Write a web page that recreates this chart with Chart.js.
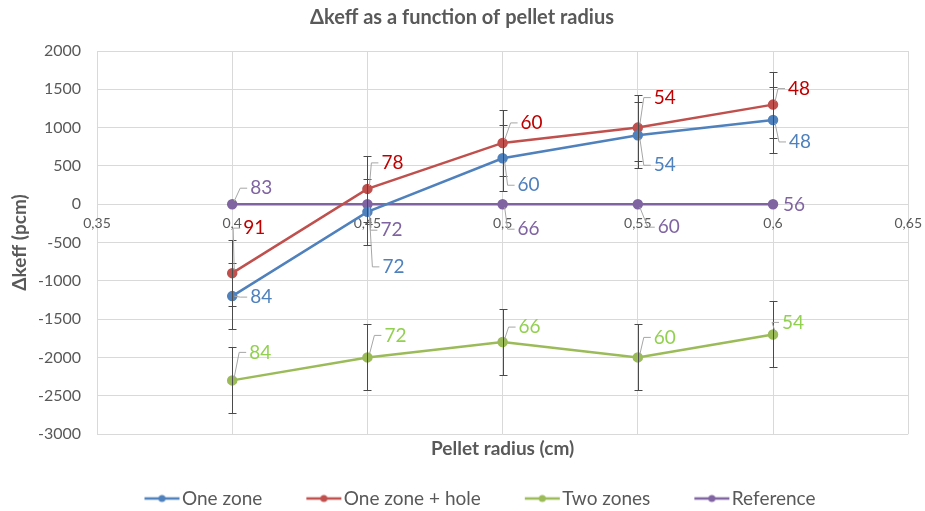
<!DOCTYPE html>
<html lang="en">
<head>
    <meta charset="UTF-8">
    <title>Δkeff as a function of pellet radius</title>
    <script src="https://cdn.jsdelivr.net/npm/chart.js"></script>
    <style>
        html, body { margin: 0; padding: 0; background: #fff; }
        #wrap { width: 925px; height: 511px; }
    </style>
</head>
<body>
    <div id="wrap"><canvas id="myChart" width="925" height="511"></canvas></div>

    <script>
        // data
        const radius = [0.4, 0.45, 0.5, 0.55, 0.6];
        const oneZone = [-1200, -100, 600, 900, 1100];
        const oneZoneHole = [-900, 200, 800, 1000, 1300];
        const twoZones = [-2300, -2000, -1800, -2000, -1700];
        const reference = [0, 0, 0, 0, 0];

        const oneZoneErr = [430, 430, 430, 430, 430];
        const oneZoneHoleErr = [430, 430, 430, 430, 430];
        const twoZonesErr = [430, 430, 430, 430, 430];

        const oneZoneLabels = [84, 72, 60, 54, 48];
        const oneZoneHoleLabels = [91, 78, 60, 54, 48];
        const twoZonesLabels = [84, 72, 66, 60, 54];
        const referenceLabels = [83, 72, 66, 60, 56];

        const xTicks = [0.35, 0.4, 0.45, 0.5, 0.55, 0.6, 0.65];
        const yMin = -3000, yMax = 2000, yStep = 500;

        // label placement (pixels, relative to the point)
        const labelOffsets = [
            [[29, 1], [26, 55], [26, 27], [27, 30], [27, 22]],
            [[22, -45], [25, -26], [29, -20], [27, -30], [26, -16]],
            [[28, -28], [28, -22], [27, -15], [27, -20], [20, -12]],
            [[29, -16], [24, 26], [26, 25], [31, 23], [21, 1]]
        ];

        const FONT = 'Lato, "Open Sans", sans-serif';
        const GREY = '#595959';

        function pts(ys) {
            return radius.map((x, i) => ({ x: x, y: ys[i] }));
        }

        // line + dot marker for the legend, shifted right so it sits just before the text
        function legendIcon(color) {
            const c = document.createElement('canvas');
            c.width = 84; c.height = 12;
            const g = c.getContext('2d');
            g.strokeStyle = color;
            g.lineWidth = 2.5;
            g.beginPath(); g.moveTo(46, 6); g.lineTo(81, 6); g.stroke();
            g.fillStyle = color;
            g.beginPath(); g.arc(63.5, 6, 3.5, 0, Math.PI * 2); g.fill();
            return c;
        }

        const series = [
            { label: 'One zone', data: oneZone, err: oneZoneErr, labels: oneZoneLabels, color: '#4F81BD', text: '#4F81BD' },
            { label: 'One zone + hole', data: oneZoneHole, err: oneZoneHoleErr, labels: oneZoneHoleLabels, color: '#C0504D', text: '#C00000' },
            { label: 'Two zones', data: twoZones, err: twoZonesErr, labels: twoZonesLabels, color: '#9BBB59', text: '#92D050' },
            { label: 'Reference', data: reference, err: null, labels: referenceLabels, color: '#8064A2', text: '#8064A2' }
        ];

        // error bars and data labels with leader lines
        const extras = {
            id: 'extras',
            afterDatasetsDraw(chart) {
                const ctx = chart.ctx;
                const xs = chart.scales.x, ys = chart.scales.y;
                ctx.save();
                ctx.strokeStyle = '#4a4a4a';
                ctx.lineWidth = 1;
                series.forEach(s => {
                    if (!s.err) return;
                    radius.forEach((x, i) => {
                        const px = Math.round(xs.getPixelForValue(x)) + 0.5;
                        const top = Math.round(ys.getPixelForValue(s.data[i] + s.err[i])) + 0.5;
                        const bot = Math.round(ys.getPixelForValue(s.data[i] - s.err[i])) + 0.5;
                        ctx.beginPath();
                        ctx.moveTo(px, top); ctx.lineTo(px, bot);
                        ctx.moveTo(px - 4, top); ctx.lineTo(px + 4, top);
                        ctx.moveTo(px - 4, bot); ctx.lineTo(px + 4, bot);
                        ctx.stroke();
                    });
                });
                ctx.font = '19px ' + FONT;
                ctx.textBaseline = 'middle';
                ctx.textAlign = 'center';
                series.forEach((s, si) => {
                    radius.forEach((x, i) => {
                        const px = xs.getPixelForValue(x);
                        const py = ys.getPixelForValue(s.data[i]);
                        const [dx, dy] = labelOffsets[si][i];
                        const lx = px + dx, ly = py + dy;
                        const txt = String(s.labels[i]);
                        const w = ctx.measureText(txt).width;
                        const left = lx - w / 2;
                        if (dx > 24 || Math.abs(dy) > 10) {
                            ctx.strokeStyle = '#a6a6a6';
                            ctx.lineWidth = 1;
                            ctx.beginPath();
                            const sy = dy < -3 ? py - 3 : (dy > 3 ? py + 3 : py);
                            ctx.moveTo(px + 2, sy);
                            ctx.lineTo(left - 10, ly);
                            ctx.lineTo(left - 3, ly);
                            ctx.stroke();
                        }
                        ctx.fillStyle = s.text;
                        ctx.fillText(txt, lx, ly);
                    });
                });
                ctx.restore();
            }
        };

        const ctx = document.getElementById('myChart').getContext('2d');
        const myChart = new Chart(ctx, {
            type: 'scatter',
            data: {
                datasets: series.map(s => ({
                    label: s.label,
                    data: pts(s.data),
                    showLine: true,
                    borderColor: s.color,
                    backgroundColor: s.color,
                    borderWidth: 2.5,
                    pointRadius: 4,
                    pointHoverRadius: 4,
                    pointStyle: 'circle',
                    legendIcon: legendIcon(s.color)
                }))
            },
            options: {
                responsive: false,
                animation: false,
                layout: { padding: { left: 8, right: 9, top: 0, bottom: 0 } },
                plugins: {
                    title: {
                        display: true,
                        text: 'Δkeff as a function of pellet radius',
                        color: GREY,
                        font: { family: FONT, size: 20, weight: 'bold' },
                        padding: { top: 6, bottom: 21 }
                    },
                    legend: {
                        position: 'bottom',
                        maxHeight: 30,
                        labels: {
                            color: GREY,
                            font: { family: FONT, size: 19 },
                            usePointStyle: true,
                            pointStyleWidth: 64,
                            padding: 8,
                            generateLabels(chart) {
                                return chart.data.datasets.map((d, i) => ({
                                    text: d.label,
                                    fillStyle: d.borderColor,
                                    strokeStyle: d.borderColor,
                                    fontColor: GREY,
                                    pointStyle: d.legendIcon,
                                    datasetIndex: i,
                                    hidden: false
                                }));
                            }
                        }
                    },
                    tooltip: { enabled: false }
                },
                scales: {
                    x: {
                        type: 'linear',
                        position: 'bottom',
                        min: xTicks[0],
                        max: xTicks[xTicks.length - 1],
                        afterBuildTicks(scale) { scale.ticks = xTicks.map(v => ({ value: v })); },
                        ticks: { display: false },
                        grid: { color: '#d9d9d9', drawTicks: false },
                        border: { display: false },
                        title: {
                            display: true,
                            text: 'Pellet radius (cm)',
                            color: GREY,
                            font: { family: FONT, size: 19, weight: 'bold' },
                            padding: { top: 0, bottom: 20.6 }
                        },
                        afterFit(scale) { scale.height = 47; }
                    },
                    x2: {
                        type: 'linear',
                        position: { y: 0 },
                        min: xTicks[0],
                        max: xTicks[xTicks.length - 1],
                        afterBuildTicks(scale) { scale.ticks = xTicks.map(v => ({ value: v })); },
                        ticks: {
                            color: GREY,
                            font: { family: FONT, size: 14 },
                            padding: 3,
                            maxRotation: 0,
                            autoSkip: false,
                            callback: v => String(Math.round(v * 100) / 100).replace('.', ',')
                        },
                        grid: { display: false },
                        border: { display: false }
                    },
                    y: {
                        min: yMin,
                        max: yMax,
                        ticks: {
                            stepSize: yStep,
                            color: GREY,
                            font: { family: FONT, size: 16 },
                            padding: 16,
                            callback: v => String(v)
                        },
                        grid: { color: '#d9d9d9', drawTicks: false },
                        border: { display: false },
                        title: {
                            display: true,
                            text: 'Δkeff (pcm)',
                            color: GREY,
                            font: { family: FONT, size: 19, weight: 'bold' },
                            padding: { top: 0, bottom: 4 }
                        },
                        afterFit(scale) { scale.width = 89; }
                    }
                }
            },
            plugins: [extras]
        });
    </script>
</body>
</html>
